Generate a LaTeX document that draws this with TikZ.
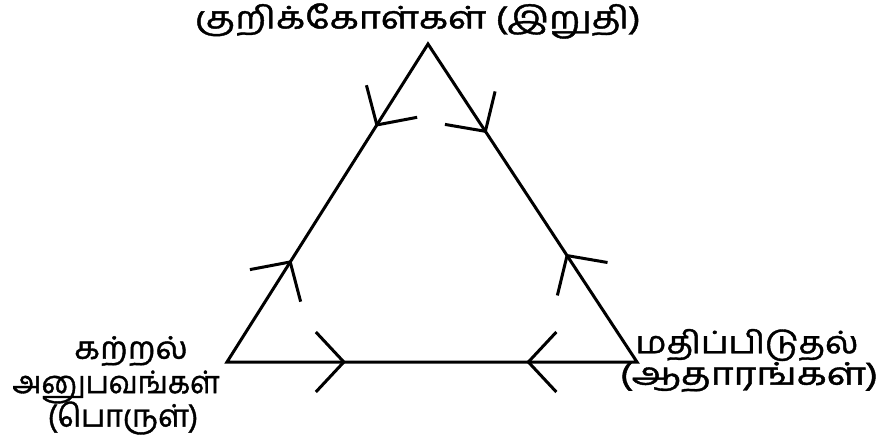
\documentclass[tikz,border=0pt]{standalone}
\usepackage{fontspec}
\usepackage{graphicx}
\newfontfamily\tamil[Script=Tamil,FakeBold=1.2]{Hind Madurai}
\usetikzlibrary{arrows.meta,decorations.markings}
\tikzset{mybarb/.tip={Straight Barb[length=28pt,width=60pt,line width=3pt]}}
\begin{document}
\begin{tikzpicture}[x=1pt,y=-1pt,
  lbl/.style={font=\tamil\fontsize{31}{37}\selectfont, inner sep=0pt, text=black},
  edge/.style={line width=3pt, line cap=round, line join=miter},
  twoarrows/.style 2 args={postaction={decorate,decoration={markings,
     mark=at position #1 with {\arrow{mybarb}},
     mark=at position #2 with {\arrowreversed{mybarb}}}}}
]
\useasboundingbox (0,0) rectangle (879,442);
\coordinate (A) at (428,44);
\coordinate (L) at (227,362);
\coordinate (R) at (637,362);
\draw[edge] (A) -- (L) -- (R) -- cycle;
\path[edge,twoarrows={0.26}{0.68}] (A) -- (L);
\path[edge,twoarrows={0.28}{0.66}] (A) -- (R);
\path[edge,twoarrows={0.29}{0.73}] (L) -- (R);
\node[lbl] (top) at (418,21) {\scalebox{1.22}[1]{குறிக்கோள்கள் (இறுதி)}};
\node[lbl] (left1) at (131,351) {\scalebox{1.08}[1]{கற்றல்}};
\node[lbl] (left2) at (116,387) {\scalebox{0.94}[1]{அனுபவங்கள்}};
\node[lbl] (left3) at (123,418) {\scalebox{0.98}[1]{(பொருள்)}};
\node[lbl] (right1) at (747,345) {\scalebox{1.12}[1]{மதிப்பிடுதல்}};
\node[lbl] (right2) at (749,377) {\scalebox{1.26}[1]{(ஆதாரங்கள்)}};
\end{tikzpicture}
\end{document}
